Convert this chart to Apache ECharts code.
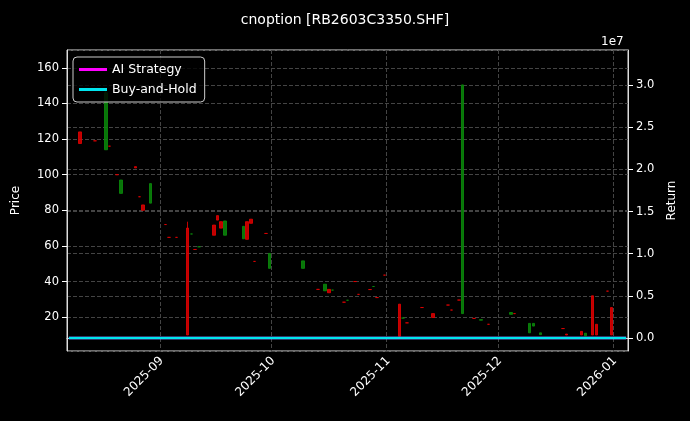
<!DOCTYPE html>
<html><head><meta charset="utf-8">
<script src="https://cdn.jsdelivr.net/npm/echarts@6/dist/echarts.min.js"></script>
<style>html,body{margin:0;background:#000}#c{width:690px;height:421px}</style>
</head><body><div id="c"></div>
<script>
// date, open, close, low, high
const candles = [
 ['2025-08-10',124,117.5,117.5,124],
 ['2025-08-14',119,119,119,119],
 ['2025-08-17',114,146,114,148],
 ['2025-08-18',116,116,116,116],
 ['2025-08-20',100,100,100,100],
 ['2025-08-21',89.5,97,89.5,97],
 ['2025-08-25',104.5,103.8,103.8,104.5],
 ['2025-08-26',87.6,87.6,87.6,87.6],
 ['2025-08-27',83,80,80,83],
 ['2025-08-29',84,95,84,95],
 ['2025-09-02',72,72,72,72],
 ['2025-09-03',64.8,64.8,64.8,64.8],
 ['2025-09-05',64.8,64.8,64.8,64.8],
 ['2025-09-08',70,10,10,73.6],
 ['2025-09-09',66.7,66.7,66.7,66.7],
 ['2025-09-10',58,58,58,58],
 ['2025-09-11',59.5,59.5,59.5,59.5],
 ['2025-09-15',71.7,66,66,71.7],
 ['2025-09-16',77,74.5,74.5,77],
 ['2025-09-17',73.6,70,70,73.6],
 ['2025-09-18',66,74,66,74],
 ['2025-09-23',64,71,64,71],
 ['2025-09-24',73.6,63.7,63.7,73.6],
 ['2025-09-25',75,72.7,72.7,75],
 ['2025-09-26',51.3,51.3,51.3,51.3],
 ['2025-09-29',67,67,67,67],
 ['2025-09-30',47.4,55.8,47.4,55.8],
 ['2025-10-09',47.4,51.6,47.4,51.6],
 ['2025-10-13',35.6,35.6,35.6,35.6],
 ['2025-10-15',34.8,38.5,34.8,38.5],
 ['2025-10-16',35.6,33.7,33.7,35.6],
 ['2025-10-17',35.2,35.2,35.2,35.2],
 ['2025-10-20',28.4,28.4,28.4,28.4],
 ['2025-10-21',29.5,29.5,29.5,29.5],
 ['2025-10-23',40,40,40,40],
 ['2025-10-24',32.8,32.8,32.8,32.8],
 ['2025-10-27',35.5,35.5,35.5,35.5],
 ['2025-10-28',37.2,37.2,37.2,37.2],
 ['2025-10-29',31,31,31,31],
 ['2025-10-31',43.6,43.6,43.6,43.6],
 ['2025-11-04',27.3,9.3,9.3,27.3],
 ['2025-11-05',19.5,19.5,19.5,19.5],
 ['2025-11-06',16.8,16.8,16.8,16.8],
 ['2025-11-10',25.4,25.4,25.4,25.4],
 ['2025-11-13',22,19.8,19.8,22],
 ['2025-11-17',26.8,26.8,26.8,26.8],
 ['2025-11-18',24,24,24,24],
 ['2025-11-20',29.6,29.6,29.6,29.6],
 ['2025-11-21',22,150.4,22,150.4],
 ['2025-11-24',19.3,19.3,19.3,19.3],
 ['2025-11-26',18.3,18.6,18.3,18.6],
 ['2025-11-28',16,16,16,16],
 ['2025-12-04',21.6,22.6,21.6,22.6],
 ['2025-12-05',22,22,22,22],
 ['2025-12-09',11.2,16.5,11.2,16.5],
 ['2025-12-10',15,16.5,15,16.5],
 ['2025-12-12',10.2,11.2,10.2,11.2],
 ['2025-12-18',13.6,13.6,13.6,13.6],
 ['2025-12-19',10.5,10,10,10.5],
 ['2025-12-23',12,10,10,12],
 ['2025-12-24',9.5,11,9.5,11],
 ['2025-12-26',32,10,10,32],
 ['2025-12-27',16,10,10,16],
 ['2025-12-30',34.6,34.6,34.6,34.6],
 ['2025-12-31',25.4,10,10,25.4]
];
const returnDates = ['2025-08-07','2026-01-04'];
const aiReturn = [0,0];
const bhReturn = [0,0];

const days = [];
for (let d = new Date(Date.UTC(2025,7,7)); d <= new Date(Date.UTC(2026,0,4)); d.setUTCDate(d.getUTCDate()+1)) {
  days.push(d.toISOString().slice(0,10));
}
const isMonth = (i, v) => v.slice(8) === '01';
const candleData = days.map(day => {
  const c = candles.find(r => r[0] === day);
  return c ? [c[1], c[2], c[3], c[4]] : '-';
});
const mk = vals => days.map(day => { const i = returnDates.indexOf(day); return i >= 0 ? vals[i] : '-'; });

const chart = echarts.init(document.getElementById('c'));
const txt = '#ffffff', grid = '#444';
chart.setOption({
  backgroundColor: '#000',
  animation: false,
  textStyle: {fontFamily: 'DejaVu Sans'},
  title: {text: 'cnoption [RB2603C3350.SHF]', left: 'center', top: 8,
    textStyle: {color: txt, fontSize: 14, fontWeight: 'normal'}},
  grid: {left: 67, right: 62, top: 50, bottom: 70, show: true, borderColor: '#ddd', borderWidth: 1},
  legend: {left: 73, top: 57, orient: 'vertical', itemGap: 7, itemWidth: 28, itemHeight: 3,
    backgroundColor: 'rgba(0,0,0,0.8)', borderColor: '#ccc', borderWidth: 1, borderRadius: 4, padding: [6,8,6,6],
    textStyle: {color: txt, fontSize: 12.5},
    data: [{name: 'AI Strategy', icon: 'rect'}, {name: 'Buy-and-Hold', icon: 'rect'}]},
  xAxis: {type: 'category', data: days, boundaryGap: true,
    axisLine: {lineStyle: {color: '#ddd'}},
    axisTick: {alignWithLabel: true, interval: isMonth, lineStyle: {color: txt}},
    axisLabel: {interval: isMonth, rotate: 45, color: txt, fontSize: 12, formatter: v => v.slice(0,7)},
    splitLine: {show: true, interval: isMonth, lineStyle: {color: grid, type: 'dashed'}}},
  yAxis: [
    {type: 'value', min: 1, max: 170, splitNumber: 8, name: 'Price', nameLocation: 'middle', nameGap: 45,
     nameTextStyle: {color: txt, fontSize: 12},
     axisLine: {show: true, lineStyle: {color: '#ddd'}}, axisTick: {show: true, lineStyle: {color: txt}},
     axisLabel: {color: txt, fontSize: 11.5, showMinLabel: false, showMaxLabel: false},
     splitLine: {lineStyle: {color: grid, type: 'dashed'}}},
    {type: 'value', min: -0.154, max: 3.416, splitNumber: 7, name: 'Return', nameLocation: 'middle', nameGap: 38,
     nameRotate: 90, nameTextStyle: {color: txt, fontSize: 12},
     axisLine: {show: true, lineStyle: {color: '#ddd'}}, axisTick: {show: true, lineStyle: {color: txt}},
     axisLabel: {color: txt, fontSize: 11.5, showMinLabel: false, showMaxLabel: false,
       formatter: v => (Math.abs(v*2 - Math.round(v*2)) < 1e-6 ? v.toFixed(1) : '')},
     splitLine: {lineStyle: {color: grid, type: 'dashed'}}}
  ],
  graphic: [{type: 'text', left: 601, top: 36, style: {text: '1e7', fill: txt, fontSize: 12, fontFamily: 'DejaVu Sans'}}],
  series: [
    {type: 'candlestick', data: candleData, barWidth: 3, yAxisIndex: 0,
     itemStyle: {color: '#0a8a0a', color0: '#e00000', borderColor: '#0a8a0a', borderColor0: '#e00000', borderWidth: 1, opacity: 0.85}},
    {name: 'AI Strategy', type: 'line', yAxisIndex: 1, data: mk(aiReturn), connectNulls: true, symbol: 'none',
     lineStyle: {color: '#ff00ff', width: 2.5}, itemStyle: {color: '#ff00ff'}},
    {name: 'Buy-and-Hold', type: 'line', yAxisIndex: 1, data: mk(bhReturn), connectNulls: true, symbol: 'none',
     lineStyle: {color: '#00e5ee', width: 2.5}, itemStyle: {color: '#00e5ee'}}
  ]
});
</script></body></html>
